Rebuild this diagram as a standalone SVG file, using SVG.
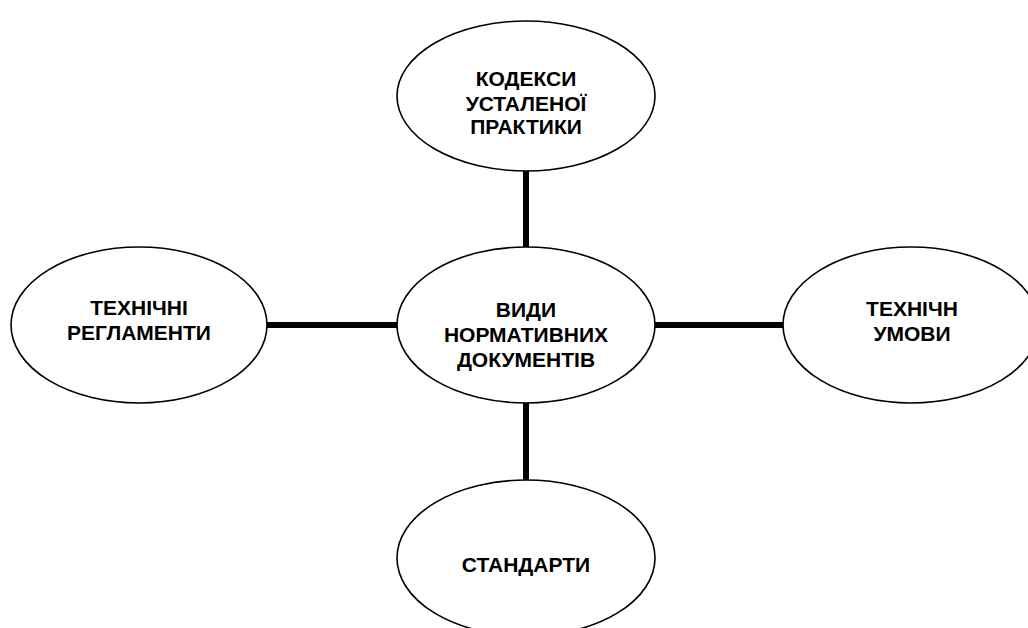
<svg xmlns="http://www.w3.org/2000/svg" width="1028" height="628" viewBox="0 0 1028 628">
<style>
.node ellipse{fill:#fff;stroke:#000;stroke-width:1.6}
.node text{font-family:"Liberation Sans",Arial,sans-serif;font-weight:bold;font-size:21px;fill:#000;text-anchor:middle}
.conn line{stroke:#000;stroke-width:6}
</style>
<rect width="1028" height="628" fill="#fff"/>
<g class="conn" id="connectors">
<line x1="526" y1="171" x2="526" y2="248"/>
<line x1="526" y1="402" x2="526" y2="481"/>
<line x1="266" y1="325" x2="398" y2="325"/>
<line x1="654" y1="325" x2="784" y2="325"/>
</g>
<g class="node" id="n-center">
<ellipse cx="526" cy="325" rx="129" ry="78"/>
<text x="526" y="317">ВИДИ</text>
<text x="526" y="342">НОРМАТИВНИХ</text>
<text x="526" y="367">ДОКУМЕНТІВ</text>
</g>
<g class="node" id="n-top">
<ellipse cx="526" cy="96" rx="129" ry="75"/>
<text x="526" y="86">КОДЕКСИ</text>
<text x="526" y="111">УСТАЛЕНОЇ</text>
<text x="526" y="134">ПРАКТИКИ</text>
</g>
<g class="node" id="n-left">
<ellipse cx="139" cy="325" rx="128" ry="78"/>
<text x="139" y="315">ТЕХНІЧНІ</text>
<text x="139" y="340">РЕГЛАМЕНТИ</text>
</g>
<g class="node" id="n-right">
<ellipse cx="911" cy="325" rx="128" ry="78"/>
<text x="912" y="316">ТЕХНІЧН</text>
<text x="912" y="341">УМОВИ</text>
</g>
<g class="node" id="n-bottom">
<ellipse cx="526" cy="558" rx="129" ry="78"/>
<text x="526" y="572">СТАНДАРТИ</text>
</g>
</svg>
